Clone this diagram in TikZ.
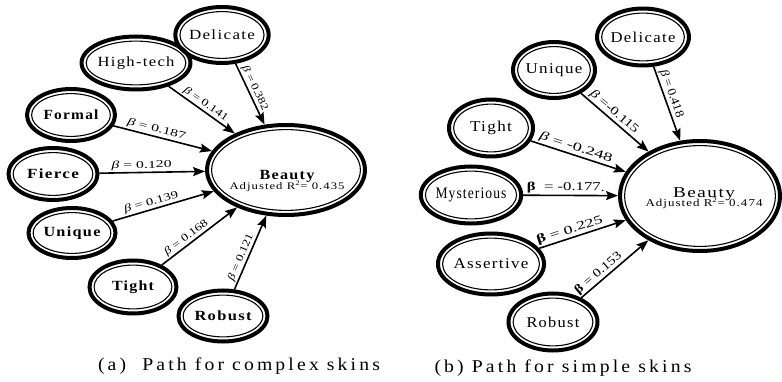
\documentclass[tikz,border=0pt]{standalone}
\usepackage{fontspec}
\setmainfont{Liberation Serif}
\newfontfamily\spf[LetterSpace=8]{Liberation Serif}
\newfontfamily\capf[LetterSpace=16]{Liberation Serif}
\usetikzlibrary{shapes.geometric,arrows.meta,calc}
\newsavebox\fitbox
\newcommand\fitw[2]{\sbox\fitbox{#2}\pgfmathsetmacro\fwr{#1/\the\wd\fitbox}\scalebox{\fwr}[1]{\usebox\fitbox}}
\begin{document}
\begin{tikzpicture}[x=1pt,y=-1pt,
  ring/.style={ellipse, draw, line width=4pt, inner sep=0pt,
    path picture={\draw[line width=1.1pt] let \p1=($(path picture bounding box.north east)-(path picture bounding box.center)$) in (path picture bounding box.center) ellipse [x radius=\x1-4.6pt, y radius=\y1-4.6pt];}},
  nfa/.style={font=\spf\fontsize{14}{16}\selectfont\bfseries},
  nfb/.style={font=\spf\fontsize{14}{16}\selectfont},
  nfc/.style={font=\spf\fontsize{15}{17}\selectfont},
  arr/.style={-{Stealth[length=12pt,width=9pt,inset=2pt]}, line width=1.6pt},
  laba/.style={sloped, above, inner sep=1.2pt, font=\rmfamily\fontsize{10.5}{11}\selectfont},
  labb/.style={sloped, above, inner sep=1.2pt, font=\rmfamily\fontsize{12}{12}\selectfont},
  captext/.style={font=\capf\fontsize{18}{20}\selectfont}]
\useasboundingbox (0,0) rectangle (782,382);
% ---- left panel
\node[ring, nfb, minimum width=88pt, minimum height=56pt] (ad) at (222,35) {\fitw{66}{Delicate}};
\node[ring, nfb, minimum width=90pt, minimum height=53pt] (ah) at (136,63) {\fitw{77}{High-tech}};
\node[ring, nfa, minimum width=88pt, minimum height=52pt] (af) at (71,115) {\fitw{55}{Formal}};
\node[ring, nfa, minimum width=89pt, minimum height=52pt] (ai) at (53,174) {\fitw{52}{Fierce}};
\node[ring, nfa, minimum width=87pt, minimum height=50pt] (au) at (72,233) {\fitw{57}{Unique}};
\node[ring, nfa, minimum width=87pt, minimum height=53pt] (at) at (133,287) {\fitw{42}{Tight}};
\node[ring, nfa, minimum width=89pt, minimum height=51pt] (ar) at (223,316) {\fitw{57}{Robust}};
\node[ring, minimum width=158pt, minimum height=90pt] (ab) at (286,170) {};
\node[align=center, inner sep=0pt] (abt) at (287,181) {{\spf\fontsize{14}{15}\selectfont\bfseries\fitw{55}{Beauty}}\\[-2pt]{\spf\fontsize{10}{11}\selectfont\fitw{115}{Adjusted R\textsuperscript{2}= 0.435}}};
\draw[arr] (ad) -- node[laba, pos=0.45] {\fitw{48}{\itshape β\upshape{} = 0.382}} (ab);
\draw[arr] (ah) -- node[laba, pos=0.5] {\fitw{52}{\itshape β\upshape{} = 0.141}} (ab);
\draw[arr] (af) -- node[laba, pos=0.42] {\fitw{60}{\itshape β\upshape{} = 0.187}} (ab);
\draw[arr] (ai) -- node[laba, pos=0.4] {\fitw{60}{\itshape β\upshape{} = 0.120}} (ab);
\draw[arr] (au) -- node[laba, pos=0.4] {\fitw{56}{\itshape β\upshape{} = 0.139}} (ab);
\draw[arr] (at) -- node[laba, pos=0.38] {\fitw{52}{\itshape β\upshape{} = 0.168}} (ab);
\draw[arr] (ar) -- node[laba, pos=0.4] {\fitw{50}{\itshape β\upshape{} = 0.121}} (ab);
\node[captext] (ca) at (239,366) {\fitw{282}{(a)\ \ Path for complex skins}};
% ---- right panel
\node[ring, nfc, minimum width=86pt, minimum height=57pt] (bd) at (643,37) {\fitw{65}{Delicate}};
\node[ring, nfc, minimum width=82pt, minimum height=56pt] (bu) at (554,70) {\fitw{57}{Unique}};
\node[ring, nfc, minimum width=84pt, minimum height=57pt] (bt) at (491,128) {\fitw{42}{Tight}};
\node[ring, minimum width=92pt, minimum height=57pt, font=\spf\fontsize{16}{17}\selectfont] (bm) at (471,195) {\fitw{71}{Mysterious}};
\node[ring, nfc, minimum width=90pt, minimum height=61pt] (ba) at (491,264) {\fitw{75}{Assertive}};
\node[ring, nfc, minimum width=89pt, minimum height=57pt] (br) at (553,322) {\fitw{53}{Robust}};
\node[ring, minimum width=160pt, minimum height=110pt] (bb) at (700,196) {};
\node[align=center, inner sep=0pt] (bbt) at (704,198) {{\spf\fontsize{15}{15}\selectfont\fitw{62}{Beauty}}\\[-4pt]{\spf\fontsize{10.5}{11}\selectfont\fitw{117}{Adjusted R\textsuperscript{2}= 0.474}}};
\draw[arr] (bd) -- node[labb, pos=0.4] {\fitw{50}{\itshape β\upshape{} = 0.418}} (bb);
\draw[arr] (bu) -- node[labb, pos=0.42] {\fitw{60}{\itshape β\upshape{} =-0.115}} (bb);
\draw[arr] (bt) -- node[labb, pos=0.45] {\fitw{76}{\itshape β\upshape{} = -0.248}} (bb);
\draw[arr] (bm) -- node[labb, pos=0.45] {\fitw{78}{\bfseries β\mdseries{}\ \ = -0.177.}} (bb);
\draw[arr] (ba) -- node[labb, pos=0.38] {\fitw{69}{\bfseries β\mdseries{} = 0.225}} (bb);
\draw[arr] (br) -- node[labb, pos=0.33] {\fitw{58}{\bfseries β\mdseries{} = 0.153}} (bb);
\node[captext] (cb) at (563,368) {\fitw{257}{(b) Path for simple skins}};
\end{tikzpicture}
\end{document}
